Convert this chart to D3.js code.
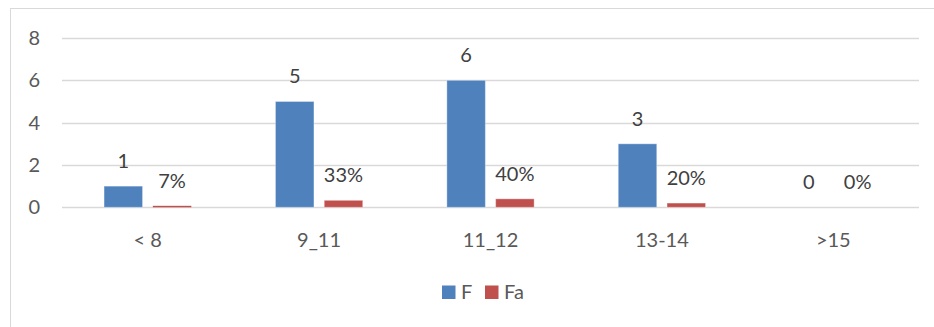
<!DOCTYPE html>
<html><head><meta charset="utf-8">
<script src="https://cdn.jsdelivr.net/npm/d3@7"></script>
<style>html,body{margin:0;padding:0;background:#fff;}svg{display:block;}</style>
</head><body>
<svg id="c" width="934" height="327"></svg>
<script>
const categories = ["< 8", "9_11", "11_12", "13-14", ">15"];
const seriesNames = ["F", "Fa"];
const F = [1, 5, 6, 3, 0];
const Fa = [0.07, 0.33, 0.40, 0.20, 0];
const FaLabels = ["7%", "33%", "40%", "20%", "0%"];
const yTicks = [0, 2, 4, 6, 8];
const colors = {F: "#4F81BD", Fa: "#C0504D"};

const svg = d3.select("#c");
const font = "Lato, 'Open Sans', sans-serif";
const txt = "#595959";

// chart border
svg.append("rect").attr("x", 10.5).attr("y", 8.5).attr("width", 940).attr("height", 340)
  .attr("fill", "none").attr("stroke", "#d9d9d9").attr("stroke-width", 1);

const x0 = d3.scaleBand().domain(categories).range([62, 919]);
const x1 = d3.scaleBand().domain(seriesNames).range([0, x0.bandwidth()]).paddingInner(0.211).paddingOuter(0.862);
const y = d3.scaleLinear().domain([0, 8]).range([207.3, 38]);

// gridlines
svg.append("g").selectAll("line").data(yTicks).join("line")
  .attr("x1", 62).attr("x2", 919)
  .attr("y1", d => Math.round(y(d)) + 0.5).attr("y2", d => Math.round(y(d)) + 0.5)
  .attr("stroke", "#d9d9d9").attr("stroke-width", 1.3);

// y tick labels
svg.append("g").selectAll("text").data(yTicks).join("text")
  .attr("x", 40).attr("y", d => y(d) + 7)
  .attr("text-anchor", "end").attr("font-family", font).attr("font-size", 20).attr("fill", txt)
  .text(d => d);

const data = categories.map((c, i) => ({c, F: F[i], Fa: Fa[i], FaL: FaLabels[i]}));

const groups = svg.append("g").selectAll("g").data(data).join("g")
  .attr("transform", d => `translate(${x0(d.c)},0)`);

groups.selectAll("rect").data(d => seriesNames.map(k => ({k, v: d[k]}))).join("rect")
  .attr("x", d => x1(d.k)).attr("width", x1.bandwidth())
  .attr("y", d => y(d.v)).attr("height", d => y(0) - y(d.v))
  .attr("fill", d => colors[d.k])
  .attr("stroke", d => d.v > 0.1 ? "#ffffff" : "none").attr("stroke-opacity", 0.35).attr("stroke-width", 1);

groups.selectAll("text").data(d => [{k: "F", v: d.F, l: String(d.F)}, {k: "Fa", v: d.Fa, l: d.FaL}]).join("text")
  .attr("x", d => x1(d.k) + x1.bandwidth() / 2)
  .attr("y", d => y(d.v) - 18)
  .attr("text-anchor", "middle").attr("font-family", font).attr("font-size", 20).attr("fill", "#404040")
  .text(d => d.l);

// category labels
svg.append("g").selectAll("text").data(categories).join("text")
  .attr("x", d => x0(d) + x0.bandwidth() / 2).attr("y", 246.5)
  .attr("text-anchor", "middle").attr("font-family", font).attr("font-size", 20).attr("fill", txt)
  .text(d => d);

// legend
const legX = [442, 485];
const leg = svg.append("g").selectAll("g").data(seriesNames).join("g")
  .attr("transform", (d, i) => `translate(${legX[i]},285.5)`);
leg.append("rect").attr("width", 13.5).attr("height", 13.5).attr("fill", d => colors[d]);
leg.append("text").attr("x", 19).attr("y", 13.8).attr("font-family", font).attr("font-size", 20).attr("fill", txt)
  .text(d => d);
</script>
</body></html>
